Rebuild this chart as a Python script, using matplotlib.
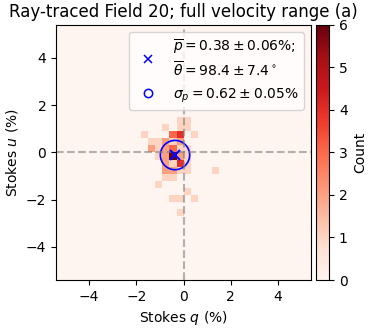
import numpy as np
import matplotlib

matplotlib.use("Agg")
import matplotlib.pyplot as plt
from matplotlib.lines import Line2D
from matplotlib.patches import Circle

# 2D histogram cells: bin centres (Stokes q, u in %) and counts
q_cells = [-0.15, 0.15,
           -0.75, -0.15, 0.15,
           -1.65, -0.45, -0.15, 0.45,
           -1.35, -1.05, -0.75, -0.45, -0.15,
           -1.35, -1.05, -0.75, -0.45, -0.15, 0.15,
           -1.05, -0.75, -0.45, -0.15, 0.15,
           -0.75, -0.45, -0.15, 0.15,
           -0.75, -0.45, -0.15, 0.15, 1.35,
           -0.75, -0.45,
           -1.05,
           0.15,
           -0.45, -0.15, 0.45,
           -0.15]
u_cells = [1.35, 1.35,
           1.05, 1.05, 1.05,
           0.75, 0.75, 0.75, 0.75,
           0.45, 0.45, 0.45, 0.45, 0.45,
           0.15, 0.15, 0.15, 0.15, 0.15, 0.15,
           -0.15, -0.15, -0.15, -0.15, -0.15,
           -0.45, -0.45, -0.45, -0.45,
           -0.75, -0.75, -0.75, -0.75, -0.75,
           -1.05, -1.05,
           -1.35,
           -1.65,
           -1.95, -1.95, -1.95,
           -2.55]
counts = [1, 1,
          1, 1, 1,
          1, 3, 4, 1,
          1, 1, 2, 1, 2,
          2, 1, 2, 3, 1, 1,
          1, 2, 6, 2, 1,
          2, 1, 4, 1,
          2, 2, 1, 1, 1,
          1, 1,
          1,
          1,
          1, 1, 1,
          1]

p_mean, p_err = 0.38, 0.06
theta_mean, theta_err = 98.4, 7.4
sigma_p, sigma_err = 0.62, 0.05

LIM = 5.4
edges = np.linspace(-LIM, LIM, 37)

fig = plt.figure(figsize=(3.89, 3.30), dpi=100)
ax = fig.add_axes([0.144, 0.1515, 0.656, 0.773])
cax = fig.add_axes([0.812, 0.1515, 0.034, 0.773])

h = ax.hist2d(q_cells, u_cells, bins=[edges, edges], weights=counts,
              cmap="Reds", vmin=0, vmax=6)
cb = fig.colorbar(h[3], cax=cax)
cb.set_label("Count")

ax.axhline(0, color="gray", ls="--", lw=1.5, alpha=0.6)
ax.axvline(0, color="gray", ls="--", lw=1.5, alpha=0.6)

# mean polarisation vector and dispersion circle
q0 = p_mean * np.cos(np.radians(2 * theta_mean))
u0 = p_mean * np.sin(np.radians(2 * theta_mean))
ax.plot([q0], [u0], "x", color="blue", ms=7, mew=1.5)
ax.add_patch(Circle((q0, u0), sigma_p, fill=False, ec="blue", lw=1.2))

handles = [
    Line2D([], [], ls="none", marker="x", color="blue", ms=6, mew=1.1),
    Line2D([], [], ls="none", marker="o", mfc="none", mec="blue", ms=6,
           mew=1.1),
]
labels = [
    rf"$\overline{{p}} = {p_mean} \pm {p_err}\%$;" "\n"
    rf"$\overline{{\theta}} = {theta_mean} \pm {theta_err}^\circ$",
    rf"$\sigma_p = {sigma_p} \pm {sigma_err}\%$",
]
ax.legend(handles, labels, loc="upper right", fontsize=10)

ax.set_xlim(-LIM, LIM)
ax.set_ylim(-LIM, LIM)
ax.set_xticks([-4, -2, 0, 2, 4])
ax.set_yticks([-4, -2, 0, 2, 4])
ax.set_xlabel("Stokes $q$ (%)")
ax.set_ylabel("Stokes $u$ (%)")
ax.set_title("Ray-traced Field 20; full velocity range (a)")

fig.savefig("out.png", dpi=100)
